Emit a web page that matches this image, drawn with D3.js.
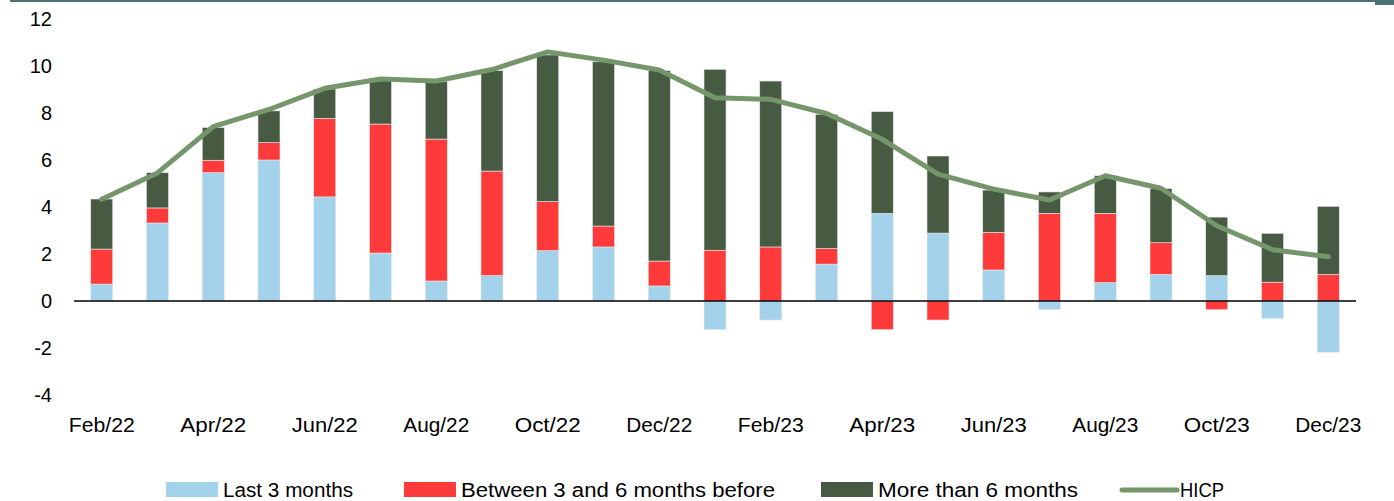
<!DOCTYPE html>
<html>
<head>
<meta charset="utf-8">
<script src="https://cdn.jsdelivr.net/npm/d3@7"></script>
<style>
  html, body { margin: 0; padding: 0; background: #fff; }
  svg { display: block; }
  text { font-family: "Liberation Sans", Arial, sans-serif; fill: #000; }
</style>
</head>
<body>
<svg id="chart" width="1394" height="501"></svg>
<script>
const months = ["Feb/22","Mar/22","Apr/22","May/22","Jun/22","Jul/22","Aug/22","Sep/22","Oct/22","Nov/22","Dec/22",
  "Jan/23","Feb/23","Mar/23","Apr/23","May/23","Jun/23","Jul/23","Aug/23","Sep/23","Oct/23","Nov/23","Dec/23"];
const last3 = [0.72,3.32,5.46,6.00,4.43,2.04,0.85,1.08,2.14,2.30,0.64,-1.22,-0.81,1.57,3.73,2.89,1.32,-0.37,0.78,1.13,1.08,-0.74,-2.18];
const between3and6 = [1.49,0.64,0.53,0.74,3.34,5.49,6.04,4.45,2.09,0.89,1.06,2.16,2.30,0.66,-1.22,-0.81,1.60,3.73,2.95,1.35,-0.37,0.80,1.13];
const moreThan6 = [2.13,1.50,1.39,1.35,1.25,1.95,2.44,4.27,6.24,6.99,8.10,7.70,7.06,5.71,4.33,3.28,1.80,0.91,1.60,2.30,2.49,2.08,2.90];
const hicp = [4.33,5.45,7.42,8.15,9.05,9.45,9.36,9.85,10.6,10.25,9.83,8.65,8.58,7.98,6.88,5.40,4.76,4.30,5.33,4.80,3.20,2.18,1.88];
const yTicks = [-4,-2,0,2,4,6,8,10,12];
const seriesNames = ["Last 3 months","Between 3 and 6 months before","More than 6 months"];
const lineName = "HICP";
const colors = ["#a5d2eb","#ff3a3a","#475a42"];
const lineColor = "#75966b";

const svg = d3.select("#chart");

// top frame strip
svg.append("rect").attr("x",10).attr("y",0).attr("width",1384).attr("height",2).attr("fill","#4b7172");
svg.append("rect").attr("x",1375).attr("y",0).attr("width",19).attr("height",5).attr("fill","#4b7172");

const x = d3.scaleBand().domain(months).range([74,1356]).paddingInner(0.605).paddingOuter(0.3);
const y = d3.scaleLinear().domain([-4,12]).range([395,19]);

const table = months.map((m,i)=>({month:m, s0:last3[i], s1:between3and6[i], s2:moreThan6[i]}));
const stack = d3.stack().keys(["s0","s1","s2"]).offset(d3.stackOffsetDiverging);
const layers = stack(table);

const g = svg.append("g");
g.selectAll("g.layer").data(layers).join("g").attr("class","layer")
  .attr("fill",(d,i)=>colors[i])
  .selectAll("rect").data(d=>d).join("rect")
  .attr("x",d=>x(d.data.month))
  .attr("width",x.bandwidth())
  .attr("y",d=>y(Math.max(d[0],d[1])))
  .attr("height",d=>Math.abs(y(d[0])-y(d[1])))
  .attr("stroke","#e8e8e8").attr("stroke-width",0.6);

// zero line
svg.append("line").attr("x1",74).attr("x2",1356).attr("y1",y(0)).attr("y2",y(0))
  .attr("stroke","#000").attr("stroke-width",1.6);

// y axis labels
const yAxis = d3.axisLeft(y).tickValues(yTicks).tickSize(0).tickPadding(0).tickFormat(d=>String(d));
const ya = svg.append("g").attr("transform","translate(52,0)").call(yAxis);
ya.select(".domain").remove();
ya.selectAll("text").attr("font-size",20).attr("font-family","Liberation Sans, Arial, sans-serif").attr("fill","#000");

// x axis labels
const xAxis = d3.axisBottom(x).tickValues(months.filter((m,i)=>i%2===0)).tickSize(0).tickPadding(0);
const xa = svg.append("g").attr("transform","translate(0,418)").call(xAxis);
xa.select(".domain").remove();
xa.selectAll("text").attr("font-size",20).attr("font-family","Liberation Sans, Arial, sans-serif").attr("fill","#000")
  .attr("textLength",66).attr("lengthAdjust","spacingAndGlyphs");

// HICP line
const line = d3.line().x((d,i)=>x(months[i])+x.bandwidth()/2).y(d=>y(d));
svg.append("path").datum(hicp).attr("d",line).attr("fill","none")
  .attr("stroke",lineColor).attr("stroke-width",5).attr("stroke-linejoin","round").attr("stroke-linecap","round");

// legend
const leg = svg.append("g");
const legItems = [
  {name:seriesNames[0], color:colors[0], sx:166, tx:223, w:130, type:"rect"},
  {name:seriesNames[1], color:colors[1], sx:404, tx:461, w:314, type:"rect"},
  {name:seriesNames[2], color:colors[2], sx:821, tx:878, w:200, type:"rect"},
  {name:lineName, color:lineColor, sx:1122, tx:1180, w:44, type:"line"}
];
legItems.forEach(it=>{
  if(it.type==="rect"){
    leg.append("rect").attr("x",it.sx).attr("y",482).attr("width",52).attr("height",15).attr("fill",it.color);
  } else {
    leg.append("line").attr("x1",it.sx).attr("x2",1177).attr("y1",490).attr("y2",490)
      .attr("stroke",it.color).attr("stroke-width",5).attr("stroke-linecap","round");
  }
  leg.append("text").attr("x",it.tx).attr("y",497).attr("font-size",20)
    .attr("textLength",it.w).attr("lengthAdjust","spacingAndGlyphs").text(it.name);
});
</script>
</body>
</html>
